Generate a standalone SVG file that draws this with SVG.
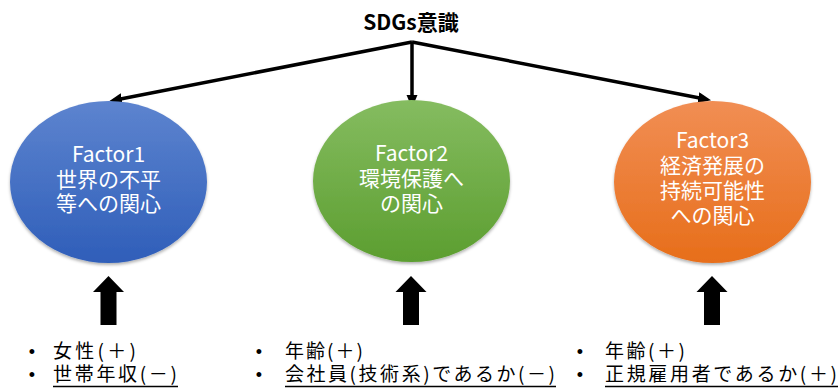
<svg xmlns="http://www.w3.org/2000/svg" width="840" height="389" viewBox="0 0 840 389">
<defs>
<linearGradient id="gBlue" x1="0" y1="0" x2="0" y2="1"><stop offset="0" stop-color="#5D84CF"/><stop offset="1" stop-color="#2F5EB9"/></linearGradient>
<linearGradient id="gGreen" x1="0" y1="0" x2="0" y2="1"><stop offset="0" stop-color="#85BC60"/><stop offset="1" stop-color="#5C9E30"/></linearGradient>
<linearGradient id="gOrange" x1="0" y1="0" x2="0" y2="1"><stop offset="0" stop-color="#F18E54"/><stop offset="1" stop-color="#E76E1A"/></linearGradient>
<filter id="sh" x="-10%" y="-10%" width="120%" height="125%"><feDropShadow dx="0" dy="2" stdDeviation="1.5" flood-color="#000" flood-opacity="0.3"/></filter>
<marker id="ah" markerUnits="userSpaceOnUse" markerWidth="14" markerHeight="12" refX="4" refY="5.5" orient="auto"><path d="M0,0 L13,5.5 L0,11 z" fill="#000"/></marker>
</defs>
<style>
.conn{stroke:#000;stroke-width:3.5;fill:none}
.ftxt{font-family:"Noto Sans CJK JP","Noto Sans",sans-serif;font-size:21px;fill:#fff;text-anchor:middle}
.title{font-family:"Noto Sans CJK JP","Noto Sans",sans-serif;font-size:21px;font-weight:bold;fill:#000;text-anchor:middle}
.item{font-family:"Noto Sans CJK JP","Noto Sans",sans-serif;font-size:19px;fill:#000}
.bul{font-family:"Liberation Sans",sans-serif;font-size:18px;fill:#000;text-anchor:middle}
.ul{stroke:#000;stroke-width:1.6}
.blk{fill:#000}
</style>
<g id="title"><text class="title" x="411" y="30">SDGs意識</text></g>
<g id="connectors">
<path class="conn" d="M412,42 L117.9,99.5" marker-end="url(#ah)"/>
<path class="conn" d="M412,42 L412,99" marker-end="url(#ah)"/>
<path class="conn" d="M412,42 L702.2,98.5" marker-end="url(#ah)"/>
<polygon class="blk" points="108.5,276 124,292 116.5,292 116.5,325 100.5,325 100.5,292 93,292"/>
<polygon class="blk" points="411,276 426.5,292 419,292 419,325 403,325 403,292 395.5,292"/>
<polygon class="blk" points="712,276 727.5,292 720,292 720,325 704,325 704,292 696.5,292"/>
</g>
<g id="factor1">
<ellipse cx="108.5" cy="182" rx="98.5" ry="81" fill="url(#gBlue)" filter="url(#sh)"/>
<text class="ftxt" x="108.5" y="162"><tspan x="108.5">Factor1</tspan><tspan x="108.5" dy="24.5">世界の不平</tspan><tspan x="108.5" dy="24.5">等への関心</tspan></text>
</g>
<g id="factor2">
<ellipse cx="411.5" cy="181" rx="98.5" ry="81" fill="url(#gGreen)" filter="url(#sh)"/>
<text class="ftxt" x="411.5" y="161"><tspan x="411.5">Factor2</tspan><tspan x="411.5" dy="25">環境保護へ</tspan><tspan x="411.5" dy="25">の関心</tspan></text>
</g>
<g id="factor3">
<ellipse cx="712.5" cy="182" rx="98.5" ry="81" fill="url(#gOrange)" filter="url(#sh)"/>
<text class="ftxt" x="712.5" y="148"><tspan x="712.5">Factor3</tspan><tspan x="712.5" dy="25">経済発展の</tspan><tspan x="712.5" dy="25">持続可能性</tspan><tspan x="712.5" dy="25">への関心</tspan></text>
</g>
<g id="list1">
<text class="bul" x="32" y="358">•</text>
<text class="item" x="53" y="358" textLength="83" lengthAdjust="spacing">女性(＋)</text>
<text class="bul" x="32" y="381">•</text>
<text class="item" x="53" y="381" textLength="124" lengthAdjust="spacing">世帯年収(－)</text>
<line class="ul" x1="53" y1="386.5" x2="178" y2="386.5"/>
</g>
<g id="list2">
<text class="bul" x="259" y="358">•</text>
<text class="item" x="285" y="358" textLength="78" lengthAdjust="spacing">年齢(＋)</text>
<text class="bul" x="259" y="381">•</text>
<text class="item" x="285" y="381" textLength="270" lengthAdjust="spacing">会社員(技術系)であるか(－)</text>
<line class="ul" x1="285" y1="386.5" x2="556" y2="386.5"/>
</g>
<g id="list3">
<text class="bul" x="580" y="358">•</text>
<text class="item" x="605" y="358" textLength="80" lengthAdjust="spacing">年齢(＋)</text>
<text class="bul" x="580" y="381">•</text>
<text class="item" x="605" y="381" textLength="232" lengthAdjust="spacing">正規雇用者であるか(＋)</text>
<line class="ul" x1="605" y1="386.5" x2="838" y2="386.5"/>
</g>
</svg>
